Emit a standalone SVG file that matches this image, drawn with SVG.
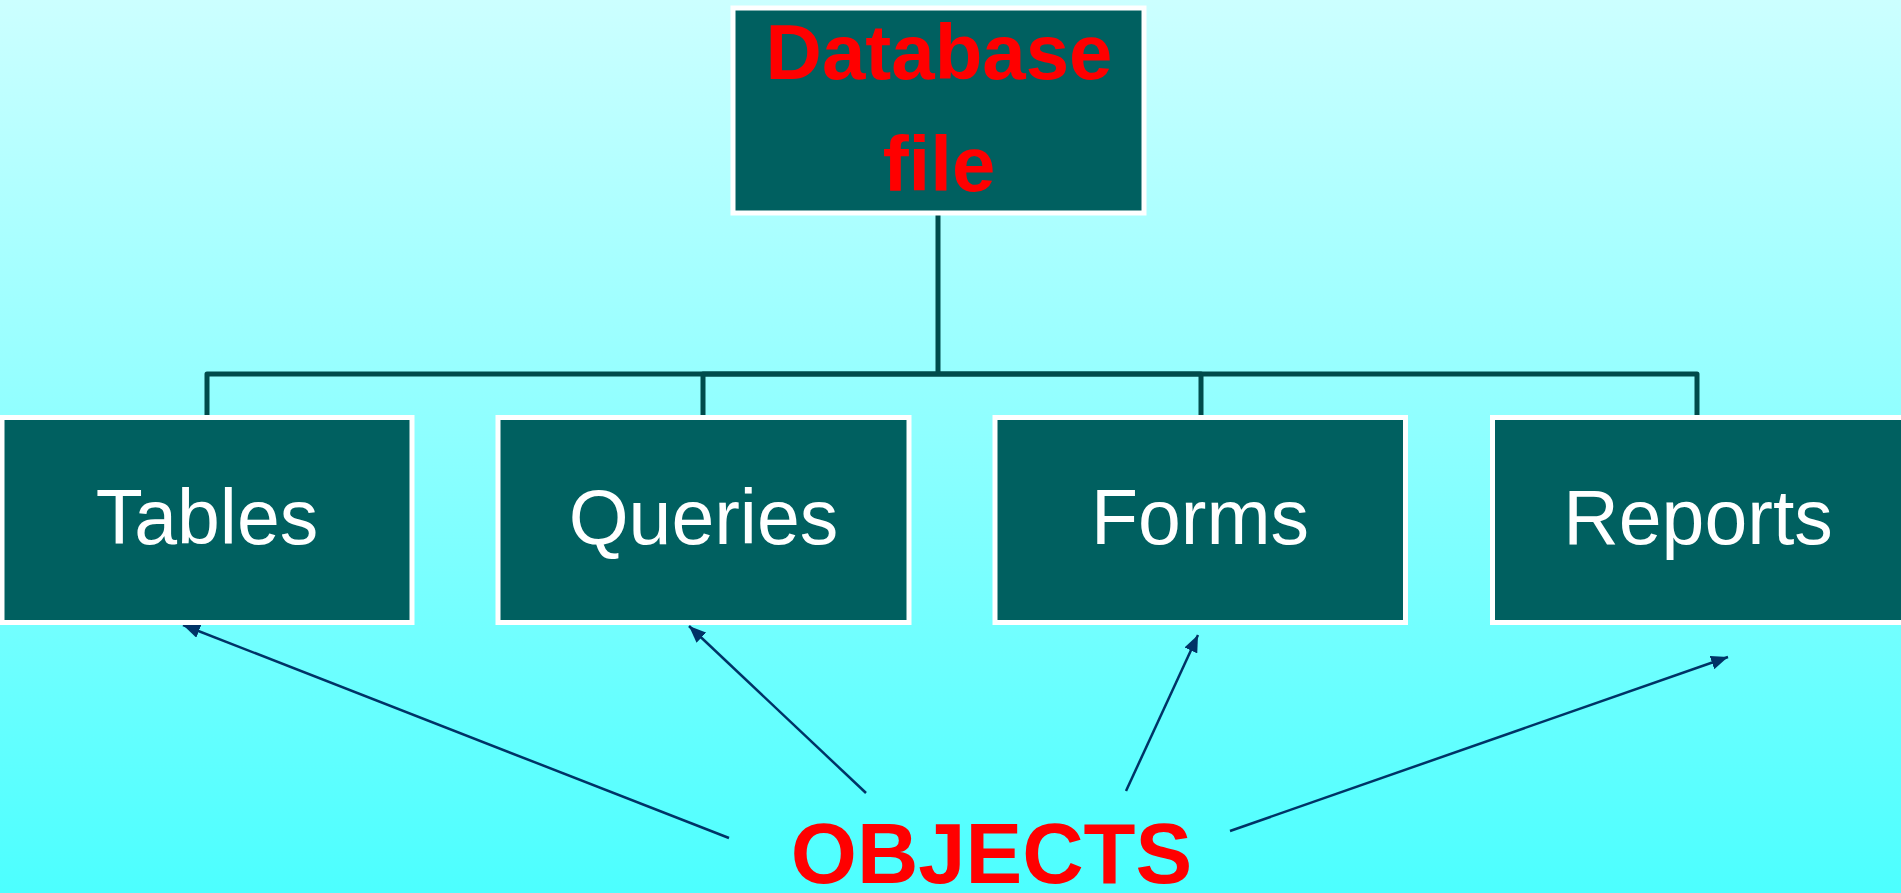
<svg xmlns="http://www.w3.org/2000/svg" width="1901" height="893" viewBox="0 0 1901 893">
  <defs>
    <linearGradient id="bg" x1="0" y1="0" x2="0" y2="1">
      <stop offset="0" stop-color="#ccffff"/>
      <stop offset="1" stop-color="#4cffff"/>
    </linearGradient>
    <marker id="head" markerUnits="userSpaceOnUse" markerWidth="18" markerHeight="14" refX="17" refY="7" orient="auto">
      <path d="M0,0 L17,7 L0,14 z" fill="#003366"/>
    </marker>
    <style>
      .box { fill: #006060; stroke: #ffffff; stroke-width: 5; }
      .lbl { font-family: "Liberation Sans", Arial, sans-serif; font-size: 77px; fill: #ffffff; text-anchor: middle; }
      .title { font-family: "Liberation Sans", Arial, sans-serif; font-size: 78px; font-weight: bold; fill: #ff0000; text-anchor: middle; }
      .tree { fill: none; stroke: #004c4c; stroke-width: 5; stroke-linejoin: round; }
      .arrow { fill: none; stroke: #003366; stroke-width: 2.5; marker-end: url(#head); }
    </style>
  </defs>

  <rect x="0" y="0" width="1901" height="893" fill="url(#bg)"/>

  <!-- tree connectors and OBJECTS pointers -->
  <g id="connectors">
    <path class="tree" d="M938,215 V374"/>
    <path class="tree" d="M207,415 V374 H1697 V415"/>
    <path class="tree" d="M703,415 V374 H1201 V415"/>
    <line class="arrow" x1="729" y1="838" x2="183" y2="625"/>
    <line class="arrow" x1="866" y1="793" x2="689" y2="626"/>
    <line class="arrow" x1="1126" y1="791" x2="1198" y2="635"/>
    <line class="arrow" x1="1230" y1="831" x2="1728" y2="657"/>
  </g>

  <g id="database-file">
    <rect class="box" x="733" y="8" width="411" height="205"/>
    <text class="title" x="939" y="79">Database</text>
    <text class="title" x="939" y="191">file</text>
  </g>

  <g id="tables">
    <rect class="box" x="2" y="417.5" width="410" height="205"/>
    <text class="lbl" x="207" y="544">Tables</text>
  </g>

  <g id="queries">
    <rect class="box" x="498" y="417.5" width="411" height="205"/>
    <text class="lbl" x="703.5" y="544">Queries</text>
  </g>

  <g id="forms">
    <rect class="box" x="995" y="417.5" width="410.5" height="205"/>
    <text class="lbl" x="1200" y="544">Forms</text>
  </g>

  <g id="reports">
    <rect class="box" x="1492.5" y="417.5" width="411" height="205"/>
    <text class="lbl" x="1698" y="544">Reports</text>
  </g>

  <g id="objects">
    <text class="title" x="991.5" y="883" style="font-size:85px">OBJECTS</text>
  </g>
</svg>
